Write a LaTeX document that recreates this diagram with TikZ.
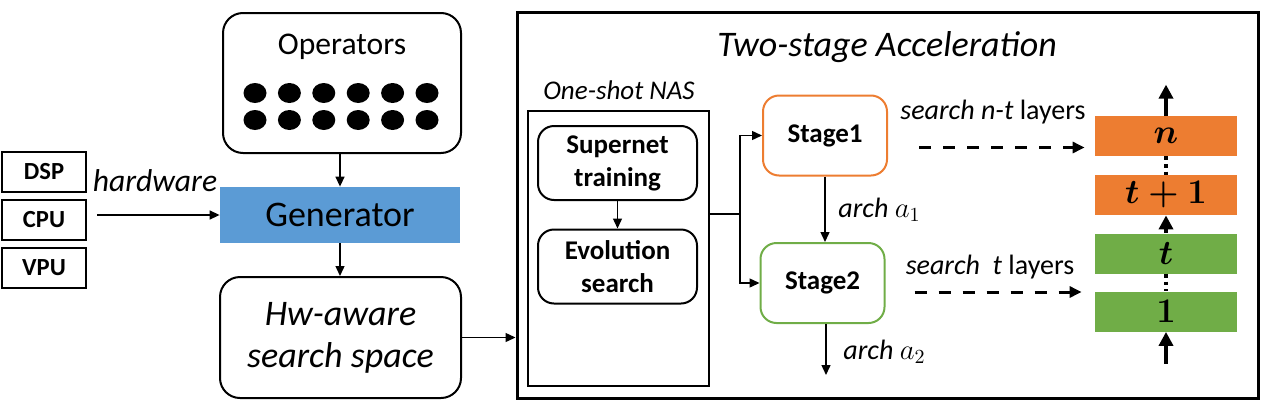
\documentclass[tikz,border=0pt]{standalone}
\usepackage{fontspec}
\setmainfont{Carlito}
\usepackage{amsmath}
\usetikzlibrary{arrows.meta,positioning,shapes.geometric,calc}
\definecolor{genblue}{RGB}{91,155,213}
\definecolor{stageorange}{RGB}{237,125,49}
\definecolor{stagegreen}{RGB}{112,173,71}

\begin{document}
\begin{tikzpicture}[x=0.5pt, y=-0.5pt,
  hwunit/.style={draw, line width=1pt, minimum width=42pt, minimum height=20pt, inner sep=0pt, font=\bfseries\fontsize{12.3}{14}\selectfont},
  roundbox/.style={draw, line width=1pt, rounded corners=10pt, align=center, inner sep=0pt},
  innerbox/.style={draw, line width=1pt, rounded corners=8pt, align=center, inner sep=0pt, minimum width=79.5pt, minimum height=37pt, font=\bfseries\fontsize{13.5}{16.5}\selectfont},
  stagebox/.style={draw, line width=1pt, rounded corners=8pt, inner sep=0pt, minimum width=62pt, minimum height=40pt, font=\bfseries\fontsize{13.5}{16}\selectfont},
  layer/.style={inner sep=0pt, minimum width=71pt, minimum height=20pt, font=\fontsize{18}{20}\selectfont},
  opdot/.style={ellipse, fill=black, inner sep=0pt, minimum width=11.5pt, minimum height=10pt},
  lab/.style={font=\itshape\fontsize{14}{16}\selectfont, inner sep=0pt},
  arr/.style={-{Triangle[length=5pt,width=4.5pt]}, line width=0.7pt},
  dasharr/.style={-{Triangle[length=6pt,width=5.5pt]}, line width=1.5pt, dash pattern=on 6pt off 6pt},
  stackarr/.style={-{Triangle[length=7pt,width=7pt]}, line width=1.8pt}]
\useasboundingbox (0,0) rectangle (1263,402);
% hardware units
\node[hwunit] (dsp) at (44,172) {DSP};
\node[hwunit] (cpu) at (44,220) {CPU};
\node[hwunit] (vpu) at (44,268) {VPU};
\node[lab, font=\itshape\fontsize{15.8}{18}\selectfont] (hwlab) at (155,181) {hardware};
% search space generation
\node[roundbox, minimum width=119pt, minimum height=70pt] (ops) at (342,83) {};
\node[font=\fontsize{15.8}{18}\selectfont] (opstext) at (342,47) {Operators};
\foreach \i in {0,...,5}
  \foreach \j in {0,1}
    \node[opdot] (dot-\i-\j) at (255+34.4*\i, 93+27*\j) {};
\node[fill=genblue, minimum width=120pt, minimum height=28pt, inner sep=0pt, font=\fontsize{18}{20}\selectfont] (gen) at (340,215) {Generator};
\node[roundbox, minimum width=120.5pt, minimum height=60.5pt, font=\itshape\fontsize{18}{21}\selectfont] (hw) at (340.5,337.5) {Hw-aware\\ search space};
\draw[arr] (gen.north |- ops.south) -- (gen.north);
\draw[arr] (gen.south) -- (gen.south |- hw.north);
\draw[arr] ([xshift=5pt]cpu.east |- gen.west) -- (gen.west);
% two-stage acceleration
\node[draw, line width=1.5pt, minimum width=370.5pt, minimum height=193pt, inner sep=0pt] (accel) at (887.5,205) {};
\node[font=\itshape\fontsize{18}{20}\selectfont] (title) at (887,47) {Two-stage Acceleration};
\draw[arr] (hw.east) -- (hw.east -| accel.west);
\node[lab, font=\itshape\fontsize{13.5}{16}\selectfont] (nastitle) at (619,90) {One-shot NAS};
\node[draw, line width=1pt, minimum width=90.5pt, minimum height=137.5pt, inner sep=0pt] (nas) at (618.5,248.5) {};
\node[innerbox] (super) at (617.5,163) {Supernet\\ training};
\node[innerbox] (evo) at (617.5,266.5) {Evolution\\ search};
\draw[arr] (super.south) -- (evo.north);
\node[stagebox, draw=stageorange] (s1) at (825,135.5) {Stage1};
\node[stagebox, draw=stagegreen] (s2) at (822.5,283) {Stage2};
\coordinate (fork) at (740,214);
\draw[line width=0.7pt] (nas.east |- fork) -- (fork);
\draw[arr] (fork) |- (s1.west);
\draw[arr] (fork) |- (s2.west);
\draw[arr] (s1.south) -- (s1.south |- s2.north);
\node[lab, anchor=west] (a1lab) at (838,210) {arch $a_1$};
\coordinate (a2end) at (826,375);
\draw[arr] (s2.south -| a2end) -- (a2end);
\node[lab, anchor=west] (a2lab) at (843,352) {arch $a_2$};
% layer stack
\node[layer, fill=stageorange] (ln) at (1166,136) {$\boldsymbol{n}$};
\node[layer, fill=stageorange] (lt1) at (1166,195) {$\boldsymbol{t+1}$};
\node[layer, fill=stagegreen] (lt) at (1166,253.5) {$\boldsymbol{t}$};
\node[layer, fill=stagegreen] (l1) at (1166,311.5) {$\boldsymbol{1}$};
\draw[stackarr] (ln.north) -- ++(0pt,15.5pt);
\draw[line width=1.8pt, dotted] (ln.south) -- (lt1.north);
\draw[stackarr] (lt.north) -- (lt1.south);
\draw[line width=1.8pt, dotted] (lt.south) -- (l1.north);
\draw[stackarr] ([yshift=-16pt]l1.south) -- (l1.south);
\node[lab] (srch1) at (993,112) {search n-t \upshape layers};
\node[lab] (srch2) at (990,267) {search~~t \upshape layers};
\draw[dasharr] ([xshift=15.5pt,yshift=-6pt]s1.east) -- ([xshift=-5pt,yshift=-6pt]s1.east -| ln.west);
\draw[dasharr] ([xshift=14.5pt,yshift=-4.5pt]s2.east) -- ([xshift=-6.5pt,yshift=-4.5pt]s2.east -| l1.west);
\end{tikzpicture}
\end{document}
